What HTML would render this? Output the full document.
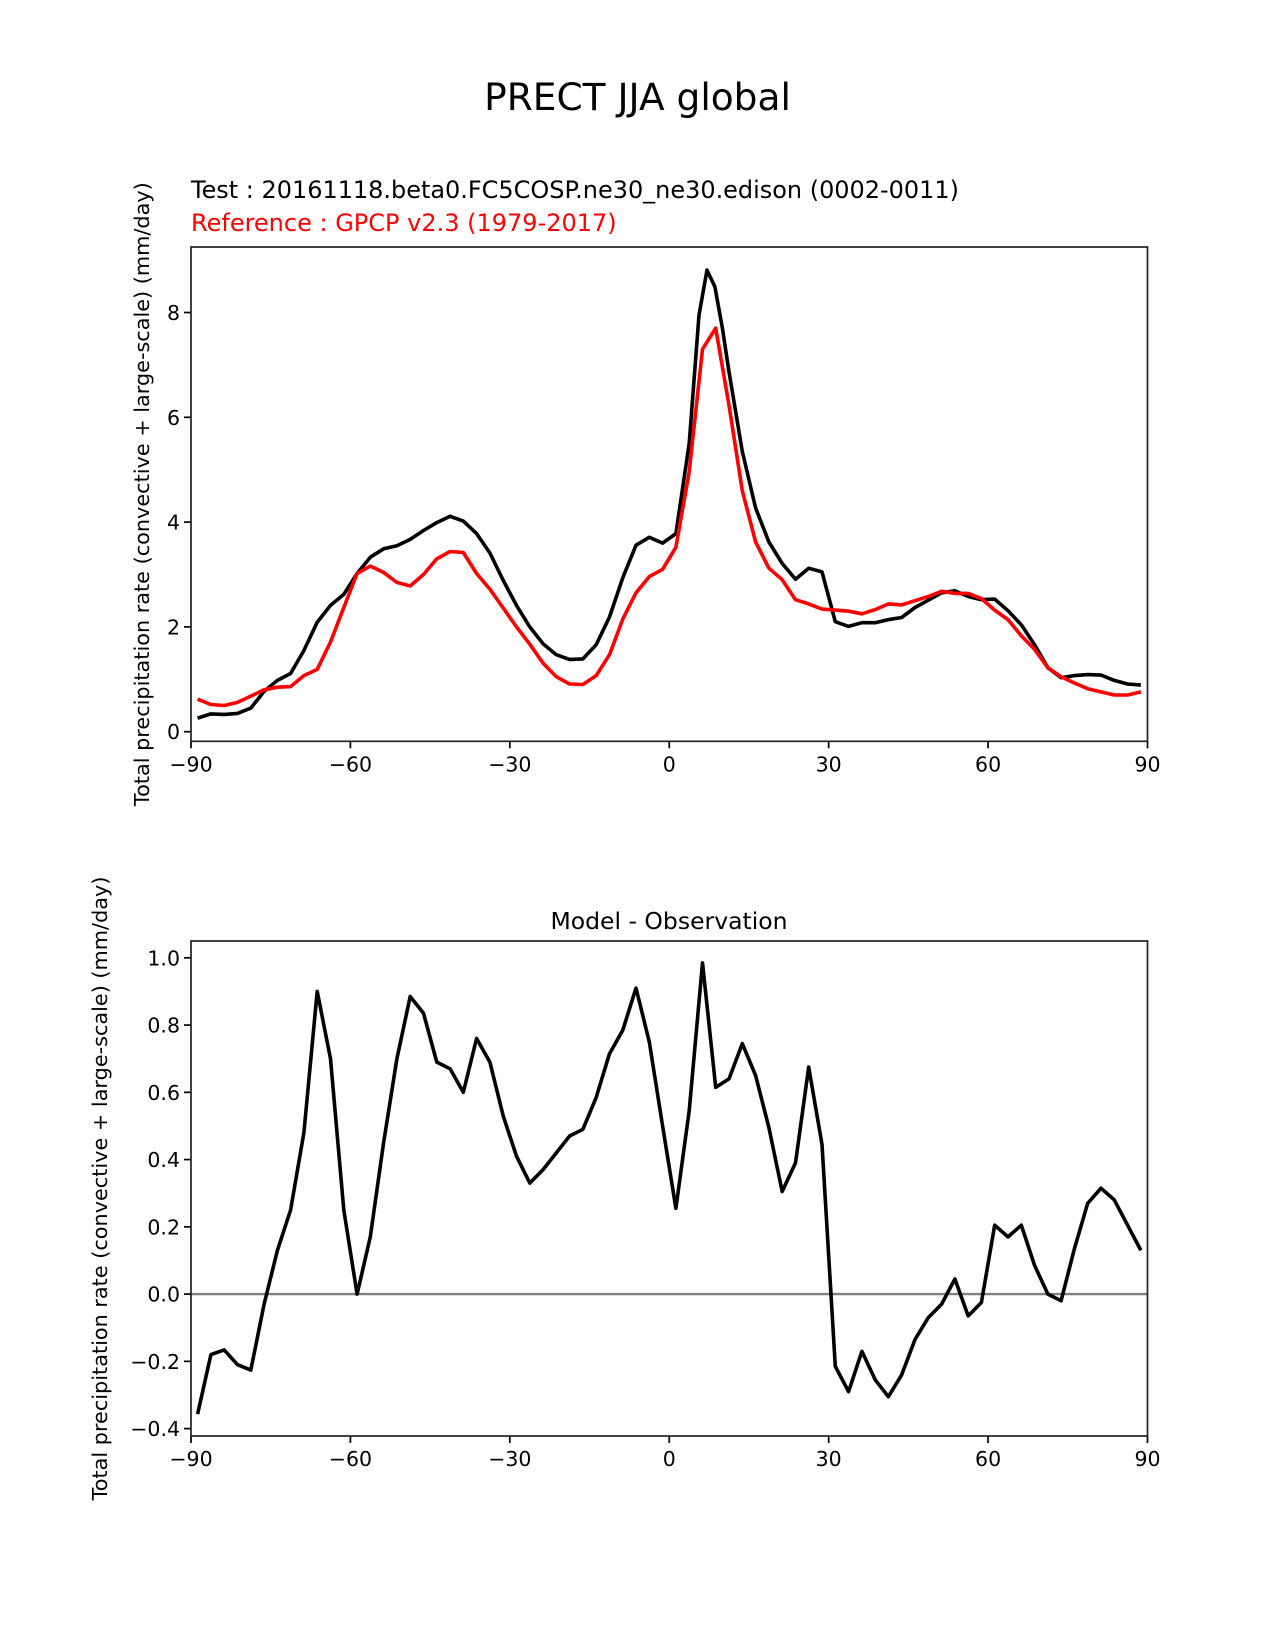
<!DOCTYPE html>
<html><head><meta charset="utf-8"><style>
html,body{margin:0;padding:0;background:#fff;}
svg{display:block;font-family:"DejaVu Sans","Liberation Sans",sans-serif;}
</style></head><body>
<svg id="fig" width="1275" height="1650" viewBox="0 0 1275 1650" xmlns="http://www.w3.org/2000/svg">
<rect width="1275" height="1650" fill="#fff"/>
<text x="637.5" y="110" font-size="37.5" text-anchor="middle">PRECT JJA global</text>
<text x="191" y="198" font-size="24" textLength="768" lengthAdjust="spacingAndGlyphs">Test : 20161118.beta0.FC5COSP.ne30_ne30.edison (0002-0011)</text>
<text x="191" y="231" font-size="24" fill="#ff0000">Reference : GPCP v2.3 (1979-2017)</text>
<text x="669" y="929" font-size="23.5" text-anchor="middle">Model - Observation</text>
<g id="top"></g>
<g id="bot"></g>
</svg>
<script>
const lats = [];
for (let i = 0; i < 72; i++) lats.push(-88.75 + 2.5 * i);
const refValues = [0.62,0.52,0.50,0.56,0.68,0.80,0.85,0.86,1.07,1.19,1.71,2.37,3.02,3.16,3.04,2.85,2.78,3.00,3.30,3.44,3.42,3.02,2.72,2.36,2.00,1.67,1.31,1.05,0.91,0.90,1.07,1.47,2.15,2.65,2.96,3.10,3.52,4.96,7.30,7.70,6.23,4.60,3.62,3.12,2.90,2.52,2.44,2.34,2.32,2.30,2.25,2.33,2.44,2.42,2.50,2.58,2.68,2.64,2.64,2.54,2.32,2.14,1.83,1.57,1.22,1.05,0.93,0.82,0.76,0.70,0.70,0.76];
const testLats = [-88.75,-86.25,-83.75,-81.25,-78.75,-76.25,-73.75,-71.25,-68.75,-66.25,-63.75,-61.25,-58.75,-56.25,-53.75,-51.25,-48.75,-46.25,-43.75,-41.25,-38.75,-36.25,-33.75,-31.25,-28.75,-26.25,-23.75,-21.25,-18.75,-16.25,-13.75,-11.25,-8.75,-6.25,-3.75,-1.25,1.25,3.75,5.6,7.1,8.6,10.0,11.25,13.75,16.25,18.75,21.25,23.75,26.25,28.75,31.25,33.75,36.25,38.75,41.25,43.75,46.25,48.75,51.25,53.75,56.25,58.75,61.25,63.75,66.25,68.75,71.25,73.75,76.25,78.75,81.25,83.75,86.25,88.75];
const testValues = [0.26,0.34,0.33,0.35,0.45,0.77,0.98,1.11,1.55,2.09,2.41,2.62,3.02,3.33,3.49,3.55,3.67,3.84,3.99,4.11,4.02,3.78,3.41,2.89,2.41,2.00,1.68,1.47,1.38,1.39,1.66,2.19,2.94,3.56,3.71,3.60,3.78,5.50,7.95,8.81,8.49,7.70,6.87,5.35,4.27,3.62,3.21,2.91,3.12,3.05,2.10,2.01,2.08,2.08,2.14,2.18,2.37,2.51,2.65,2.69,2.58,2.52,2.53,2.31,2.04,1.66,1.22,1.03,1.07,1.09,1.08,0.98,0.91,0.89];
const diffValues = [-0.357,-0.18,-0.166,-0.21,-0.226,-0.03,0.13,0.25,0.48,0.90,0.70,0.25,0.0,0.17,0.45,0.70,0.885,0.835,0.69,0.67,0.60,0.76,0.69,0.53,0.41,0.33,0.37,0.42,0.47,0.49,0.585,0.715,0.785,0.91,0.75,0.50,0.255,0.545,0.985,0.615,0.64,0.745,0.65,0.495,0.305,0.39,0.675,0.445,-0.215,-0.29,-0.17,-0.255,-0.305,-0.24,-0.135,-0.07,-0.03,0.045,-0.065,-0.025,0.205,0.17,0.205,0.085,0.0,-0.02,0.135,0.27,0.315,0.28,0.205,0.13];
const xTicks = [-90,-60,-30,0,30,60,90];
const xTickLabels = ["\u221290","\u221260","\u221230","0","30","60","90"];
const topYTicks = [0,2,4,6,8];
const topYTickLabels = ["0","2","4","6","8"];
const botYTicks = [-0.4,-0.2,0.0,0.2,0.4,0.6,0.8,1.0];
const botYTickLabels = ["\u22120.4","\u22120.2","0.0","0.2","0.4","0.6","0.8","1.0"];

const NS = "http://www.w3.org/2000/svg";
function mk(parent, tag, attrs) {
  const e = document.createElementNS(NS, tag);
  for (const k in attrs) e.setAttribute(k, attrs[k]);
  parent.appendChild(e);
  return e;
}
const X0 = 191, X1 = 1147.5;
function xs(v) { return X0 + (v + 90) / 180 * (X1 - X0); }

function drawAxes(g, top, bottom, ymin, ymax, yTicks, yLabels, labelX) {
  const ys = v => bottom - (v - ymin) / (ymax - ymin) * (bottom - top);
  xTicks.forEach((t, i) => {
    const tk = mk(g, "line", {x1: xs(t), x2: xs(t), y1: bottom, y2: bottom + 7, stroke: "#000", "stroke-width": 1.7});
    
    
    const tl = mk(g, "text", {x: xs(t), y: bottom + 30, "font-size": 20.5, "text-anchor": "middle"});
    tl.textContent = xTickLabels[i];
    
    
  });
  yTicks.forEach((t, i) => {
    const tk = mk(g, "line", {x1: X0 - 7, x2: X0, y1: ys(t), y2: ys(t), stroke: "#000", "stroke-width": 1.7});
    
    
    const tl = mk(g, "text", {x: X0 - 11, y: ys(t) + 7.5, "font-size": 20.5, "text-anchor": "end"});
    tl.textContent = yLabels[i];
    
    
  });
  const cy = (top + bottom) / 2;
  const yl = mk(g, "text", {x: labelX, y: cy, "font-size": 20.8, "text-anchor": "middle", transform: `rotate(-90 ${labelX} ${cy})`});
  yl.textContent = "Total precipitation rate (convective + large-scale) (mm/day)";
  
  
  return ys;
}
function frame(g, top, bottom) {
  const r = mk(g, "rect", {x: X0, y: top, width: X1 - X0, height: bottom - top, fill: "none", stroke: "#222", "stroke-width": 1.7});
  
  
}
function line(g, xsArr, ysArr, ys, color, name) {
  const pts = xsArr.map((x, i) => xs(x).toFixed(1) + "," + ys(ysArr[i]).toFixed(1)).join(" ");
  const p = mk(g, "polyline", {points: pts, fill: "none", stroke: color, "stroke-width": 3.6, "stroke-linejoin": "round"});
  
  
}

// top chart
const gt = document.getElementById("top");
const T0 = 247, T1 = 741.3;
const ysT = drawAxes(gt, T0, T1, -0.183, 9.25, topYTicks, topYTickLabels, 149);
line(gt, testLats, testValues, ysT, "#000", "test-line");
line(gt, lats, refValues, ysT, "#ff0000", "reference-line");
frame(gt, T0, T1);

// diff chart
const gb = document.getElementById("bot");
const B0 = 941, B1 = 1436;
const ysB = drawAxes(gb, B0, B1, -0.422, 1.05, botYTicks, botYTickLabels, 107);
const zl = mk(gb, "line", {x1: X0, x2: X1, y1: ysB(0), y2: ysB(0), stroke: "#808080", "stroke-width": 2.4});


line(gb, lats, diffValues, ysB, "#000", "difference-line");
frame(gb, B0, B1);
</script>
</body></html>
